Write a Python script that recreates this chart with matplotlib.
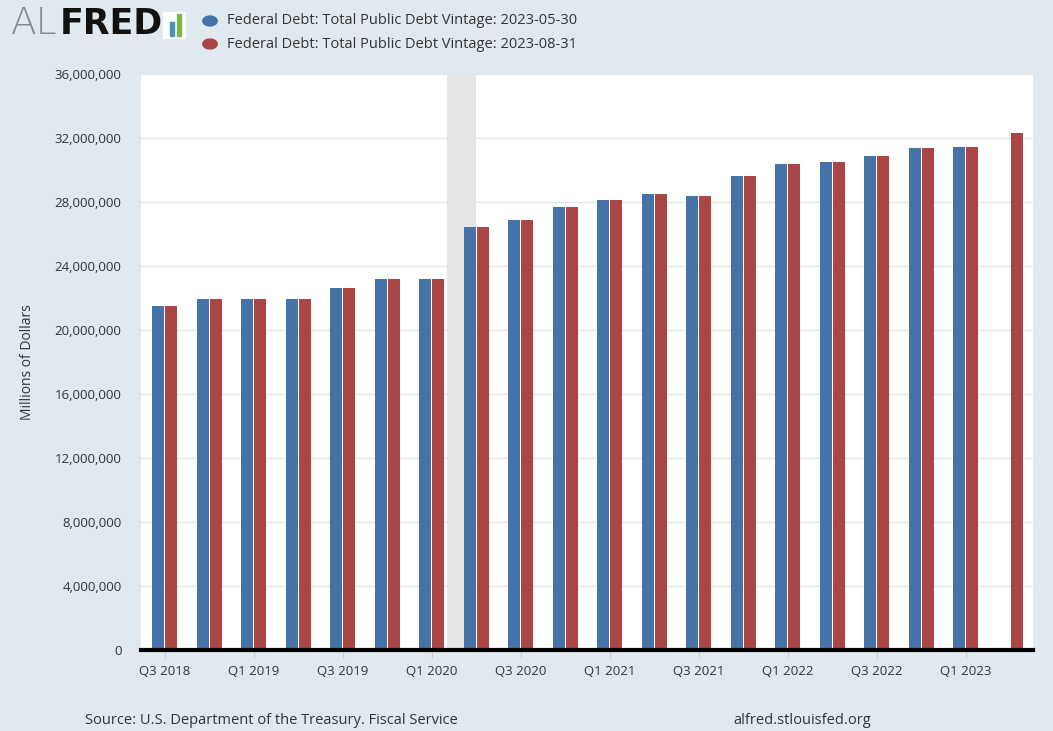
import numpy as np
import matplotlib.pyplot as plt
from matplotlib.patches import Rectangle

# Quarterly values, millions of dollars (Q3 2018 .. Q2 2023)
quarters = ['Q3 2018', 'Q4 2018', 'Q1 2019', 'Q2 2019', 'Q3 2019', 'Q4 2019',
            'Q1 2020', 'Q2 2020', 'Q3 2020', 'Q4 2020', 'Q1 2021', 'Q2 2021',
            'Q3 2021', 'Q4 2021', 'Q1 2022', 'Q2 2022', 'Q3 2022', 'Q4 2022',
            'Q1 2023', 'Q2 2023']
vintage_0530 = [21500000, 21950000, 21950000, 21950000, 22650000, 23200000,
                23200000, 26420000, 26900000, 27700000, 28100000, 28470000,
                28400000, 29600000, 30350000, 30480000, 30850000, 31360000,
                31420000]
vintage_0831 = [21500000, 21950000, 21950000, 21950000, 22650000, 23200000,
                23200000, 26420000, 26900000, 27700000, 28100000, 28470000,
                28400000, 29600000, 30350000, 30480000, 30850000, 31360000,
                31420000, 32300000]
ytick_vals = np.arange(0, 36000001, 4000000)

bg = '#e1e9f0'
blue = '#4572a7'
red = '#aa4643'
text_col = '#333333'
font = 'Open Sans'

fig = plt.figure(figsize=(10.53, 7.31), dpi=100, facecolor=bg)
ax = fig.add_axes([141/1053, 81/731, 892/1053, 576/731])
ax.set_facecolor('white')

x = np.arange(len(quarters))
w = 12 / 44.5
g = 0.5 / 44.5
ax.bar(x[:len(vintage_0530)] - g - w/2, vintage_0530, width=w, color=blue, zorder=3)
ax.bar(x + g + w/2, vintage_0831, width=w, color=red, zorder=3)

# recession shading (Feb 2020 - Apr 2020)
ax.axvspan(6 + 31/91, 7.0, color='#e6e6e6', zorder=1, lw=0)

ax.set_xlim(-0.53, 19.51)
ax.set_ylim(0, 36000000)
ax.set_yticks(ytick_vals)
ax.set_yticklabels(['{:,}'.format(v) for v in ytick_vals], fontfamily=font,
                   fontsize=9.5, color=text_col)
ax.yaxis.grid(True, color='#e6e6e6', lw=1, zorder=0)
ax.tick_params(axis='y', length=0, pad=14)

ax.set_xticks(x[::2])
ax.set_xticklabels(quarters[::2], fontfamily=font, fontsize=9.5, color=text_col)
ax.tick_params(axis='x', length=6, color='#cccccc', pad=5, direction='out')

for s in ['top', 'right', 'left']:
    ax.spines[s].set_visible(False)
ax.spines['bottom'].set_color('black')
ax.spines['bottom'].set_linewidth(3)
ax.spines['bottom'].set_zorder(4)

ax.set_ylabel('Millions of Dollars', fontfamily=font, fontsize=10,
              color=text_col)
ax.yaxis.set_label_coords(-106/892, 0.5)

# logo
fig.text(11/1053, 1 - 24/731, 'AL', fontfamily='DejaVu Sans', fontweight='light',
         fontsize=27, color='#8a8a8a', va='center', ha='left')
fig.text(60/1053, 1 - 24/731, 'FRED', fontfamily='DejaVu Sans', fontweight='bold',
         fontsize=25, color='#111111', va='center', ha='left')
fig.patches.append(Rectangle((163/1053, 1 - 38/731), 22/1053, 26/731,
                             transform=fig.transFigure, color='white', zorder=2))
fig.patches.append(Rectangle((170/1053, 1 - 36/731), 4/1053, 14/731,
                             transform=fig.transFigure, color='#4a8fc4', zorder=3))
fig.patches.append(Rectangle((177/1053, 1 - 36/731), 4/1053, 22/731,
                             transform=fig.transFigure, color='#7ab648', zorder=3))

# legend
for yy, col, lab in [(21, blue, 'Federal Debt: Total Public Debt Vintage: 2023-05-30'),
                     (44, red, 'Federal Debt: Total Public Debt Vintage: 2023-08-31')]:
    fig.patches.append(plt.Circle((210/1053, 1 - yy/731), 0.0068,
                                  transform=fig.transFigure, color=col))
    fig.text(227/1053, 1 - yy/731, lab, fontfamily=font, fontsize=10.5,
             color=text_col, va='center', ha='left')

# footer
fig.text(85/1053, 1 - 720/731, 'Source: U.S. Department of the Treasury. Fiscal Service',
         fontfamily=font, fontsize=10.5, color=text_col, va='center', ha='left')
fig.text(733/1053, 1 - 720/731, 'alfred.stlouisfed.org',
         fontfamily=font, fontsize=10.5, color=text_col, va='center', ha='left')

fig.savefig('out.png', dpi=100, facecolor=bg)
